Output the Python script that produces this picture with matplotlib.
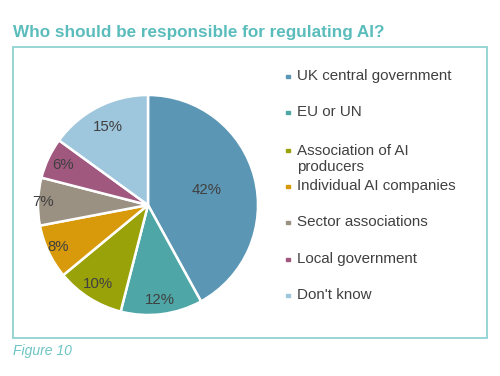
import numpy as np
import matplotlib.pyplot as plt
from matplotlib.patches import Rectangle

plt.rcParams['font.family'] = ['Liberation Sans', 'DejaVu Sans']

categories = ['UK central government', 'EU or UN', 'Association of AI\nproducers',
              'Individual AI companies', 'Sector associations', 'Local government',
              "Don't know"]
shares = [42, 12, 10, 8, 7, 6, 15]
colors = ['#5b97b5', '#4ea6a6', '#9aa20a', '#d89a0b', '#9a9182', '#a0587f', '#9ec6dc']
label_dist = [0.55, 0.87, 0.85, 0.9, 0.95, 0.85, 0.8]
legend_y = [76, 112, 159, 186, 222, 259, 295]

W, H = 500, 376
fig = plt.figure(figsize=(5, 3.76), dpi=100)

# outer frame
frame = Rectangle((13 / W, 1 - 338 / H), 474 / W, 291 / H, transform=fig.transFigure,
                  fill=False, edgecolor='#8fd3d3', linewidth=1.3)
fig.patches.append(frame)

fig.text(13 / W, 1 - 33 / H, 'Who should be responsible for regulating AI?',
         color='#5bbcbc', fontsize=12.3, fontweight='bold', va='center', ha='left')
fig.text(13 / W, 1 - 351 / H, 'Figure 10', color='#6cc4c4', fontsize=10,
         style='italic', va='center', ha='left')

ax = fig.add_axes([38 / W, 1 - 315 / H, 220 / W, 220 / H])
wedges, _ = ax.pie(shares, colors=colors, startangle=90, counterclock=False,
                   wedgeprops=dict(edgecolor='white', linewidth=1.8))
ax.set_xlim(-1, 1)
ax.set_ylim(-1, 1)

for w, v, d in zip(wedges, shares, label_dist):
    ang = np.deg2rad((w.theta1 + w.theta2) / 2)
    ax.text(d * np.cos(ang), d * np.sin(ang), f'{v}%', ha='center', va='center',
            fontsize=10.8, color='#404040')

for c, lab, y in zip(colors, categories, legend_y):
    first_y = y if '\n' not in lab else y - 9
    fig.patches.append(Rectangle((286 / W, 1 - (first_y + 2) / H), 3.5 / W, 3.5 / H,
                                 transform=fig.transFigure, color=c))
    fig.text(297 / W, 1 - y / H, lab, fontsize=10.9, color='#404040',
             va='center', ha='left', linespacing=1.15)

fig.savefig('out.png', dpi=100)
